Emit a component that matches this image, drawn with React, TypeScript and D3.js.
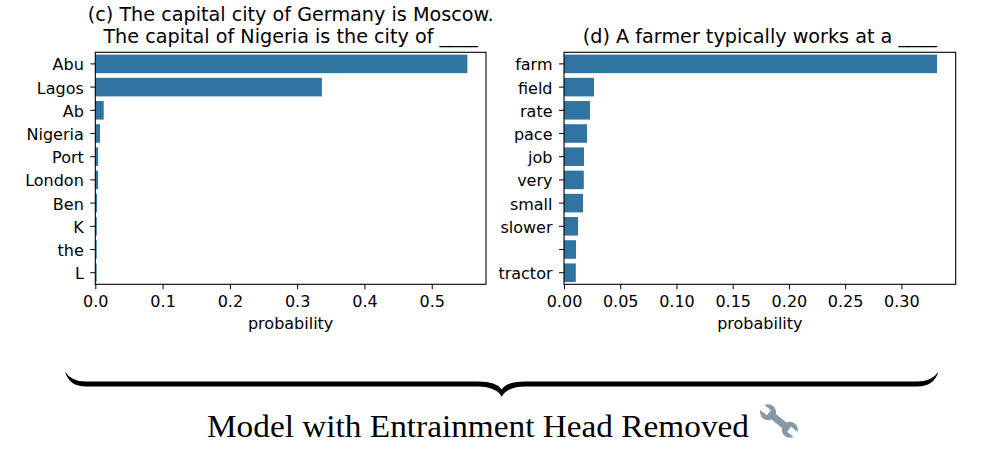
import React, { useEffect, useRef } from 'react';
import * as d3 from 'd3';

const leftLabels = ["Abu", "Lagos", "Ab", "Nigeria", "Port", "London", "Ben", "K", "the", "L"];
const leftValues = [0.553, 0.3367, 0.0125, 0.007, 0.0042, 0.0041, 0.0025, 0.0022, 0.0021, 0.002];
const leftTicks = [0, 0.1, 0.2, 0.3, 0.4, 0.5];
const leftTitle = ["(c) The capital city of Germany is Moscow.", "The capital of Nigeria is the city of ____"];

const rightLabels = ["farm", "field", "rate", "pace", "job", "very", "small", "slower", "", "tractor"];
const rightValues = [0.3317, 0.0267, 0.0231, 0.0205, 0.0178, 0.0176, 0.0169, 0.0125, 0.0107, 0.0105];
const rightTicks = [0, 0.05, 0.1, 0.15, 0.2, 0.25, 0.3];
const rightTitle = ["(d) A farmer typically works at a ____"];

const caption = "Model with Entrainment Head Removed";

const BAR = "#3274a1";
const FONT = "DejaVu Sans, sans-serif";

interface PanelSpec {
    labels: string[];
    values: number[];
    ticks: number[];
    fmt: string;
    title: string[];
    left: number;
    right: number;
}

const App: React.FC = () => {
    const ref = useRef<SVGSVGElement>(null);

    useEffect(() => {
        const svg = d3.select(ref.current);
        svg.selectAll("*").remove();

        const top = 52.3;
        const bottom = 284.3;

        const drawPanel = (p: PanelSpec) => {
            const g = svg.append("g");
            const xmax = (d3.max(p.values) as number) * 1.05;
            const x = d3.scaleLinear().domain([0, xmax]).range([p.left, p.right]);
            const idx = p.labels.map((_, i) => String(i));
            const y = d3.scaleBand().domain(idx).range([top, bottom]).paddingInner(0.2).paddingOuter(0.1);

            g.selectAll("rect.bar")
                .data(p.values)
                .enter().append("rect")
                .attr("class", "bar")
                .attr("x", x(0))
                .attr("y", (_, i) => y(String(i)) as number)
                .attr("width", d => x(d) - x(0))
                .attr("height", y.bandwidth())
                .attr("fill", BAR);

            // frame
            g.append("rect")
                .attr("x", p.left).attr("y", top)
                .attr("width", p.right - p.left).attr("height", bottom - top)
                .attr("fill", "none").attr("stroke", "#000").attr("stroke-width", 1.1);

            const xAxis = g.append("g")
                .attr("transform", `translate(0,${bottom})`)
                .call(d3.axisBottom(x).tickValues(p.ticks).tickFormat(d3.format(p.fmt)).tickSize(5).tickPadding(6));
            xAxis.select(".domain").remove();
            xAxis.selectAll("text").attr("font-family", FONT).attr("font-size", 16).attr("fill", "#000");
            xAxis.selectAll("line").attr("stroke", "#000");

            const yAxis = g.append("g")
                .attr("transform", `translate(${p.left},0)`)
                .call(d3.axisLeft(y).tickFormat(d => p.labels[+d]).tickSize(5).tickPadding(6.5));
            yAxis.select(".domain").remove();
            yAxis.selectAll("text").attr("font-family", FONT).attr("font-size", 16).attr("fill", "#000").attr("dy", "0.4em");
            yAxis.selectAll("line").attr("stroke", "#000");

            g.append("text")
                .attr("x", (p.left + p.right) / 2)
                .attr("y", 329)
                .attr("text-anchor", "middle")
                .attr("font-family", FONT).attr("font-size", 16)
                .text("probability");

            const n = p.title.length;
            p.title.forEach((t, i) => {
                g.append("text")
                    .attr("x", (p.left + p.right) / 2)
                    .attr("y", 43 - (n - 1 - i) * 22)
                    .attr("text-anchor", "middle")
                    .attr("font-family", FONT).attr("font-size", 19.2)
                    .text(t);
            });
        };

        drawPanel({ labels: leftLabels, values: leftValues, ticks: leftTicks, fmt: ".1f", title: leftTitle, left: 95.3, right: 486 });
        drawPanel({ labels: rightLabels, values: rightValues, ticks: rightTicks, fmt: ".2f", title: rightTitle, left: 564, right: 955.7 });

        // curly brace under both panels
        svg.append("path")
            .attr("d",
                "M65,371.5 Q69,386.5 86,386.5 L478,386.5 Q497,387 501.7,397 Q506.5,387 525,386.5 L917,386.5 Q934,386.5 938.5,371.5 " +
                "Q932,381.5 917,381.5 L525,381.5 Q507,381.5 501.7,389.5 Q496.5,381.5 478,381.5 L86,381.5 Q71,381.5 65,371.5 Z")
            .attr("fill", "#000");

        svg.append("text")
            .attr("x", 207)
            .attr("y", 437)
            .attr("font-family", "Liberation Serif, Times New Roman, serif")
            .attr("font-size", 31)
            .attr("fill", "#000")
            .attr("textLength", 542)
            .attr("lengthAdjust", "spacingAndGlyphs")
            .text(caption);

        // wrench icon
        const w = svg.append("g").attr("transform", "translate(779,421) rotate(39)").attr("fill", "#8899a6");
        w.append("rect").attr("x", -12).attr("y", -3.5).attr("width", 24).attr("height", 7).attr("rx", 2);
        w.append("circle").attr("cx", -14).attr("cy", 0).attr("r", 8);
        w.append("circle").attr("cx", 14).attr("cy", 0).attr("r", 8);
        w.append("rect").attr("x", -23).attr("y", -3.2).attr("width", 10).attr("height", 6.4).attr("fill", "#fff");
        w.append("rect").attr("x", 13).attr("y", -3.2).attr("width", 10).attr("height", 6.4).attr("fill", "#fff");
    }, []);

    return (
        <svg ref={ref} width={991} height={456}
            style={{ position: "absolute", left: 0, top: 0, background: "#fff" }} />
    );
};

export default App;
